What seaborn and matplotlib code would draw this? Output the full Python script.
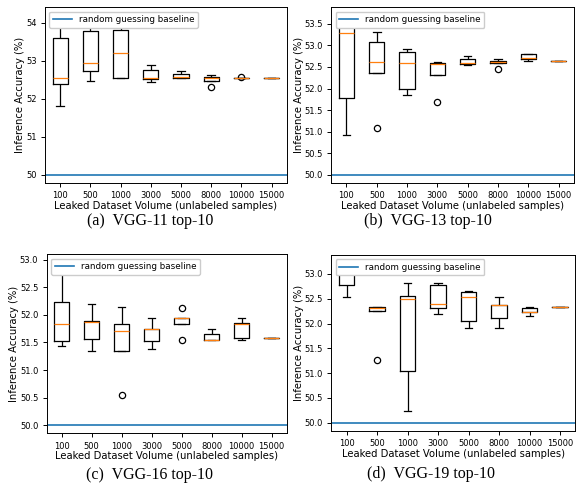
import matplotlib
matplotlib.use("Agg")
import matplotlib.pyplot as plt
import seaborn as sns
import pandas as pd

# Leaked dataset volumes (x categories)
volumes = ["100", "500", "1000", "3000", "5000", "8000", "10000", "15000"]

# Inference accuracy (%) of repeated runs for each volume, per model
vgg11 = [
    [51.80, 52.38, 52.55, 53.60, 54.20],
    [52.47, 52.73, 52.93, 53.78, 54.10],
    [52.55, 52.55, 53.20, 53.80, 54.00],
    [52.45, 52.53, 52.55, 52.75, 52.88],
    [52.55, 52.55, 52.57, 52.65, 52.72],
    [52.30, 52.47, 52.55, 52.58, 52.62],
    [52.55, 52.55, 52.55, 52.55, 52.58],
    [52.55, 52.55, 52.55, 52.55, 52.55],
]
vgg13 = [
    [50.93, 51.77, 53.30, 53.60, 53.70],
    [51.08, 52.36, 52.62, 53.07, 53.32],
    [51.84, 51.98, 52.60, 52.84, 52.92],
    [51.68, 52.32, 52.57, 52.59, 52.62],
    [52.55, 52.58, 52.60, 52.68, 52.76],
    [52.46, 52.60, 52.62, 52.64, 52.68],
    [52.65, 52.68, 52.70, 52.80, 52.80],
    [52.64, 52.64, 52.64, 52.64, 52.64],
]
vgg16 = [
    [51.43, 51.52, 51.84, 52.23, 52.95],
    [51.34, 51.56, 51.87, 51.88, 52.20],
    [50.54, 51.34, 51.70, 51.84, 52.15],
    [51.38, 51.52, 51.75, 51.75, 51.95],
    [51.54, 51.84, 51.94, 51.95, 52.13],
    [51.54, 51.54, 51.54, 51.66, 51.75],
    [51.54, 51.58, 51.83, 51.86, 51.94],
    [51.58, 51.58, 51.58, 51.58, 51.58],
]
vgg19 = [
    [52.54, 52.78, 53.08, 53.18, 53.22],
    [51.26, 52.26, 52.32, 52.33, 52.34],
    [50.23, 51.04, 52.49, 52.56, 52.82],
    [52.20, 52.32, 52.39, 52.78, 52.82],
    [51.90, 52.06, 52.54, 52.64, 52.66],
    [51.90, 52.12, 52.37, 52.37, 52.54],
    [52.16, 52.23, 52.23, 52.32, 52.34],
    [52.33, 52.33, 52.33, 52.33, 52.33],
]

captions = ["(a)  VGG-11 top-10", "(b)  VGG-13 top-10",
            "(c)  VGG-16 top-10", "(d)  VGG-19 top-10"]
baseline = 50.0

W, H = 576, 493
fig = plt.figure(figsize=(W / 100, H / 100), dpi=100)


def px_rect(left, right, top, bottom):
    return [left / W, (H - bottom) / H, (right - left) / W, (bottom - top) / H]


panels = [
    (vgg11, px_rect(45, 286.7, 7.3, 182.7), (150, 221)),
    (vgg13, px_rect(331.3, 573.7, 7.3, 182.7), (428, 221)),
    (vgg16, px_rect(46.7, 286.7, 254.3, 433.3), (150, 475)),
    (vgg19, px_rect(331.3, 575.3, 255, 430.7), (431, 474)),
]

for (runs, rect, cap_xy), caption in zip(panels, captions):
    ax = fig.add_axes(rect)
    df = pd.DataFrame(
        [(v, acc) for v, vals in zip(volumes, runs) for acc in vals],
        columns=["volume", "accuracy"],
    )
    sns.boxplot(
        data=df, x="volume", y="accuracy", order=volumes, ax=ax,
        fill=False, color="black", width=0.5, linewidth=0.9,
        medianprops={"color": "#ff7f0e", "linewidth": 0.9},
        flierprops={"marker": "o", "markerfacecolor": "none",
                    "markeredgecolor": "black", "markersize": 4.5,
                    "markeredgewidth": 0.9},
    )
    ax.axhline(baseline, color="#1f77b4", linewidth=1.2,
               label="random guessing baseline")
    ax.set_xlabel("Leaked Dataset Volume (unlabeled samples)", fontsize=7.2,
                  labelpad=0.5)
    ax.set_ylabel("Inference Accuracy (%)", fontsize=7.2, labelpad=0.5)
    ax.tick_params(labelsize=6, width=0.7, length=3, pad=3)
    for s in ax.spines.values():
        s.set_linewidth(0.7)
    ax.legend(loc="upper left", fontsize=6.3, handlelength=2.2,
              borderpad=0.4, borderaxespad=0.5, framealpha=1)
    fig.text(cap_xy[0] / W, 1 - cap_xy[1] / H, caption,
             ha="center", va="center", fontsize=11.5,
             family="Liberation Serif")

fig.savefig("out.png", dpi=100)
